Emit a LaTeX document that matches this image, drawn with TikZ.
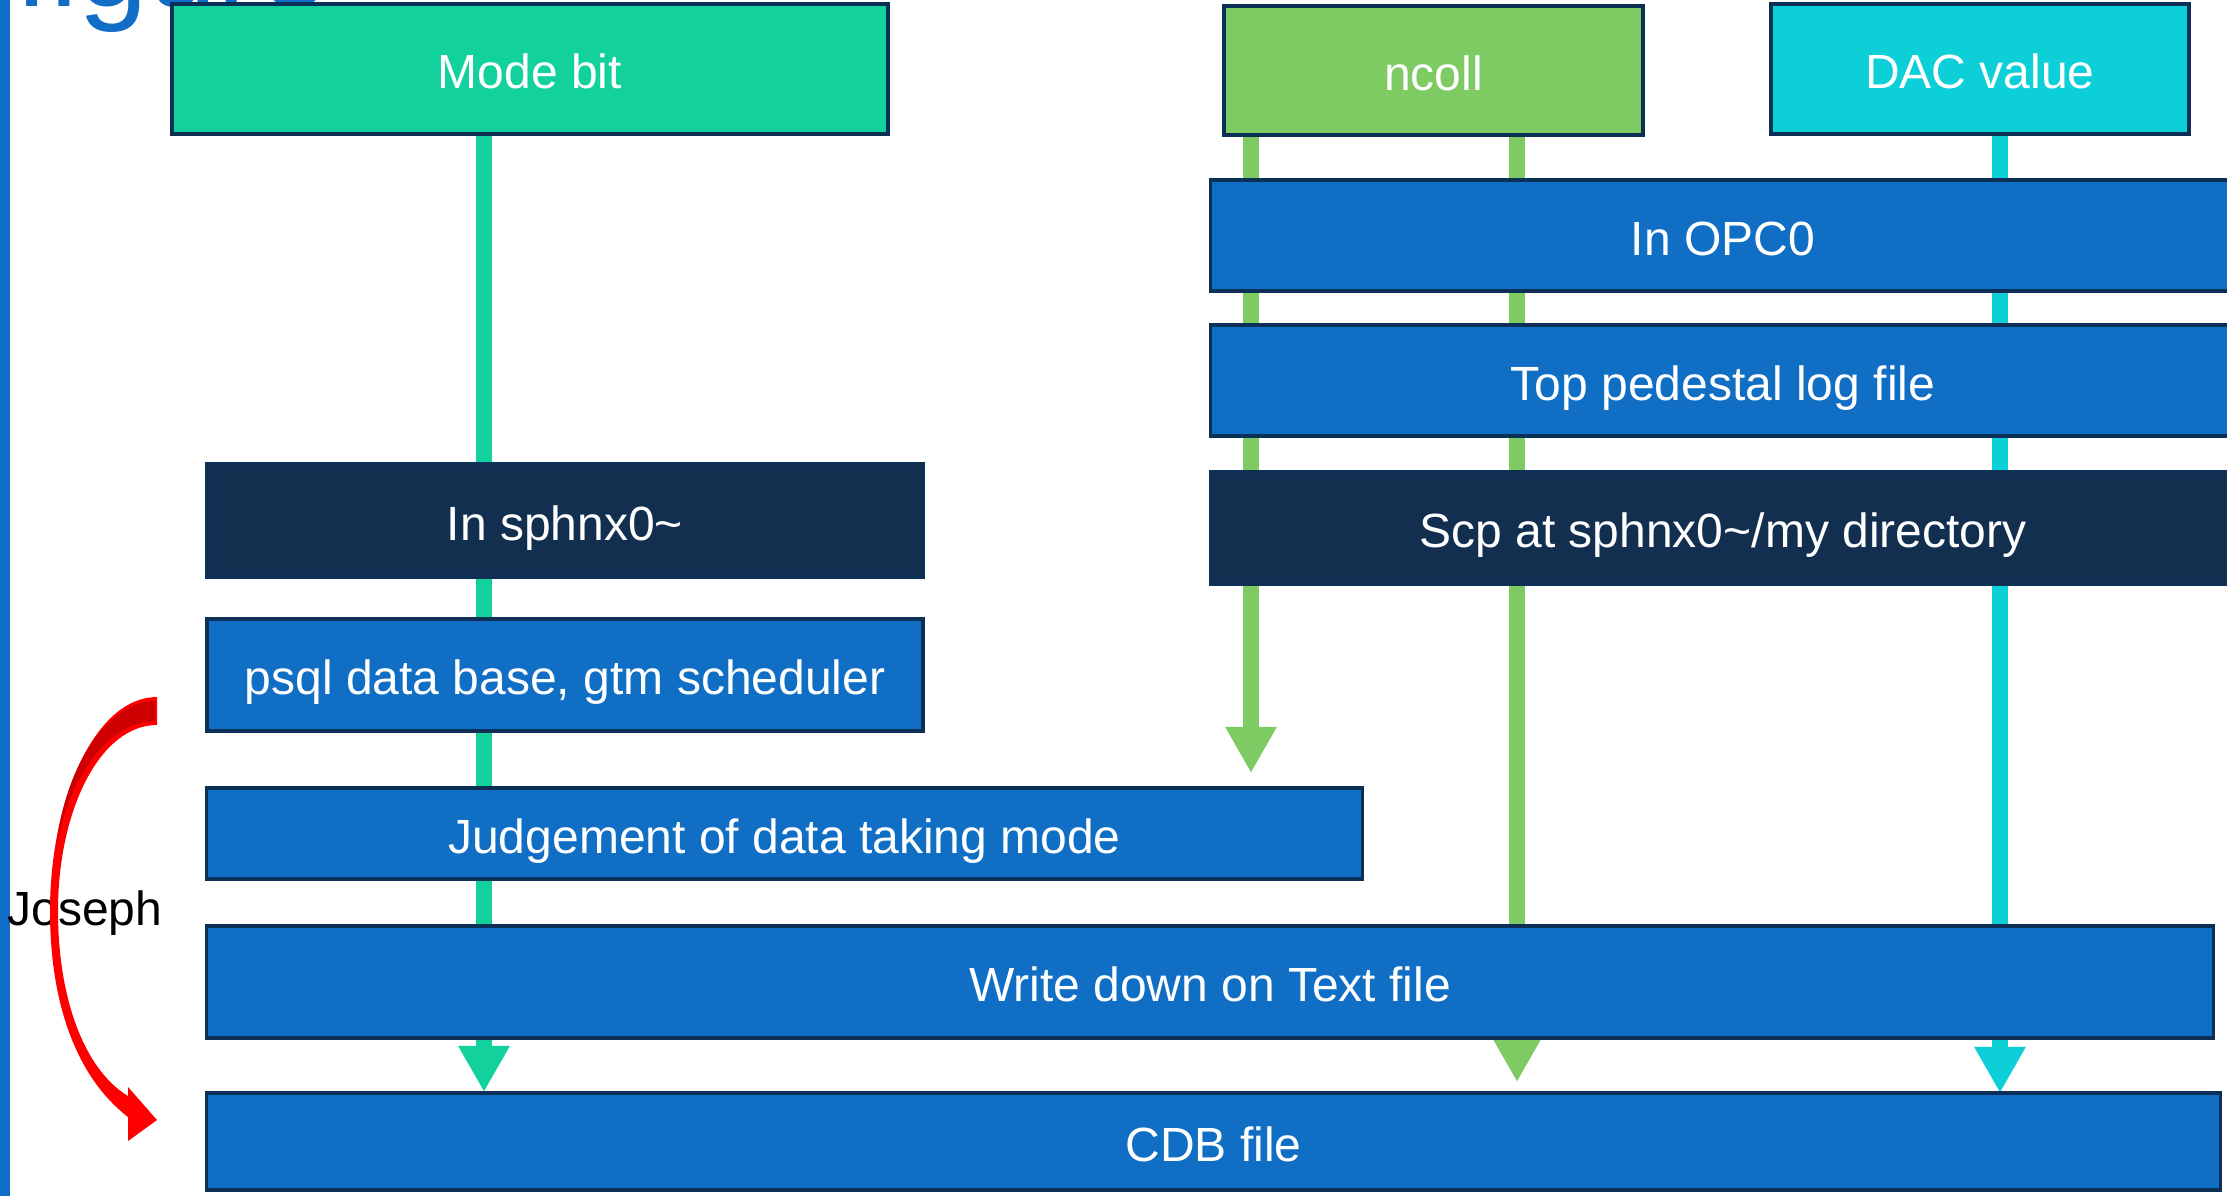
\documentclass[tikz,border=0pt]{standalone}
\usepackage{fontspec}
\setmainfont{Liberation Sans}
\usetikzlibrary{arrows.meta}
\definecolor{boxblue}{HTML}{106FC4}
\definecolor{edgenavy}{HTML}{0C2F56}
\definecolor{darkbox}{HTML}{132F50}
\definecolor{modegreen}{HTML}{12D19C}
\definecolor{ncollgreen}{HTML}{7ECB63}
\definecolor{daccyan}{HTML}{0DCFD8}
\definecolor{titleblue}{HTML}{106EC6}
\definecolor{darkred}{HTML}{CC0000}
\pgfdeclarelayer{bg}
\pgfdeclarelayer{paper}
\pgfsetlayers{paper,bg,main}
\tikzset{
  flowbox/.style={draw=edgenavy, line width=1pt, fill=boxblue, text=white,
    rectangle, inner sep=0pt, font=\fontsize{13.65pt}{16pt}\selectfont,
    text height=11.2pt, text depth=0pt},
  darkflow/.style={flowbox, fill=darkbox},
  flowline/.style={line width=4.55pt, -{Triangle[length=13.1pt, width=13.7pt]}}
}
\begin{document}
\begin{tikzpicture}[x=0.01cm, y=-0.01cm]
\useasboundingbox (0,0) rectangle (2227,1196);
\clip (0,0) rectangle (2227,1196);
\begin{pgfonlayer}{paper}
  \fill[white] (0,0) rectangle (2227,1196);
\end{pgfonlayer}
% left bar
\fill[titleblue] (0,0) rectangle (10,1196);
% title (cut off at the top edge)
\node[anchor=base west, inner sep=0pt, text=titleblue,
  font=\fontsize{35.6pt}{40pt}\selectfont] (title) at (15,6) {figure};
% top boxes
\node[flowbox, fill=modegreen, minimum width=7.16cm, minimum height=1.30cm] (modebit) at (530,69) {Mode bit};
\node[flowbox, fill=ncollgreen, minimum width=4.19cm, minimum height=1.29cm] (ncoll) at (1433.5,70.5) {ncoll};
\node[flowbox, fill=daccyan, minimum width=4.18cm, minimum height=1.30cm] (dac) at (1980,69) {DAC value};
% right column
\node[flowbox, minimum width=10.24cm, minimum height=1.11cm] (opc) at (1723,235.5) {In OPC0};
\node[flowbox, minimum width=10.24cm, minimum height=1.11cm] (tpl) at (1723,380.5) {Top pedestal log file};
\node[darkflow, minimum width=10.24cm, minimum height=1.12cm] (scp) at (1723,528) {Scp at sphnx0\textasciitilde/my directory};
% left column
\node[darkflow, minimum width=7.16cm, minimum height=1.13cm] (sphnx) at (565,520.5) {In sphnx0\textasciitilde};
\node[flowbox, minimum width=7.16cm, minimum height=1.12cm] (psql) at (565,675) {psql data base, gtm scheduler};
\node[flowbox, minimum width=11.55cm, minimum height=0.91cm] (judge) at (784.5,833.5) {Judgement of data taking mode};
\node[flowbox, minimum width=20.06cm, minimum height=1.12cm] (write) at (1210,982) {Write down on Text file};
\node[flowbox, minimum width=20.13cm, minimum height=0.97cm] (cdb) at (1213.5,1141.5) {CDB file};
% connector end points
\coordinate (mbx) at (484,1092);
\coordinate (ncl) at (1251,773);
\coordinate (ncr) at (1517,1082);
\coordinate (dacx) at (2000,1093);
\begin{pgfonlayer}{bg}
  \draw[flowline, modegreen] (modebit.south -| mbx) -- (mbx);
  \draw[flowline, ncollgreen] (ncoll.south -| ncl) -- (ncl);
  \draw[flowline, ncollgreen] (ncoll.south -| ncr) -- (ncr);
  \draw[flowline, daccyan] (dac.south -| dacx) -- (dacx);
\end{pgfonlayer}
% Joseph label
\node[inner sep=0pt, text=black, font=\fontsize{13.65pt}{16pt}\selectfont] (joseph) at (85,913) {Joseph};
% red curved arrow
\fill[red] (157,697) .. controls (95,697) and (50,800) .. (50,911)
  .. controls (50,1010) and (80,1080) .. (128,1117)
  -- (128,1141) -- (157,1120) -- (128,1087) -- (128,1096)
  .. controls (85,1070) and (58,1000) .. (58,911)
  .. controls (58,810) and (100,725) .. (157,725) -- cycle;
\fill[darkred] (155,701) .. controls (100,703) and (62,780) .. (56,850)
  .. controls (66,785) and (105,721) .. (155,721) -- cycle;
\end{tikzpicture}
\end{document}
